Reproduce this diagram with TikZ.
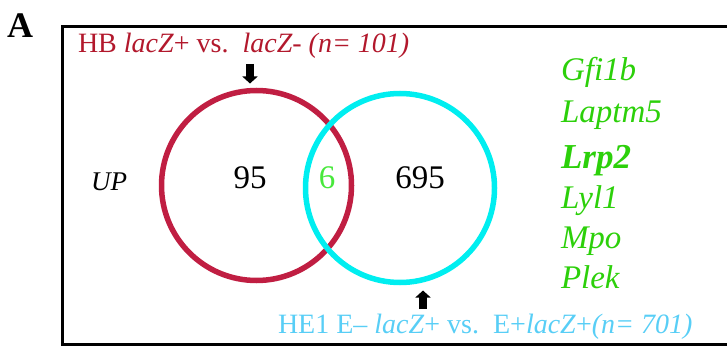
\documentclass[tikz,border=0pt]{standalone}
\usepackage{fontspec}
\setmainfont{Liberation Serif}[ItalicFont={Liberation Serif Italic},
  BoldFont={Liberation Serif Bold}, BoldItalicFont={Liberation Serif Bold Italic}]
\usepackage{tikz}
\usetikzlibrary{arrows.meta,positioning,calc}

\definecolor{hbred}{RGB}{192,30,66}
\definecolor{hbtext}{RGB}{178,24,44}
\definecolor{hecyan}{RGB}{0,238,240}
\definecolor{hetext}{RGB}{88,206,246}
\definecolor{genegreen}{RGB}{44,208,10}
\definecolor{sixgreen}{RGB}{72,232,60}

\newcommand{\fs}[1]{\fontsize{#1}{#1}\selectfont}

\begin{document}
\begin{tikzpicture}[x=1pt, y=-1pt, >={Triangle[width=15pt,length=7pt]}]
\tikzstyle{every node}=[inner sep=0pt, outer sep=0pt]
\tikzstyle{venn}=[circle, draw, line width=5.5pt, fill=none]
\tikzstyle{pointer}=[->, line width=8pt, black]
\tikzstyle{gene}=[anchor=base west, text=genegreen, font=\fs{33}\itshape]
\tikzstyle{count}=[font=\fs{33}]
\useasboundingbox (0,0) rectangle (727,350);

% panel letter and frame
\node[font=\fs{36}\bfseries, anchor=base west] (panel) at (7,38) {A};
\draw[line width=3pt] (62,27) rectangle (745,344);

% the two sets
\node[venn, draw=hbred, minimum size=190pt] (hb) at (256.5,185.5) {};
\node[venn, draw=hecyan, minimum size=189pt] (he) at (400,188) {};

% set titles
\node[anchor=base west, text=hbtext, font=\fs{28}] (hbtitle) at (78,53)
  {HB \textit{lacZ}+ vs.\ \ \textit{lacZ- (n= 101)}};
\node[anchor=base west, text=hetext, font=\fs{28}] (hetitle) at (278,333)
  {HE1 E\textendash{} \textit{lacZ}+ vs.\ \ E+\textit{lacZ}+\textit{(n= 701)}};

\coordinate (hbtip) at (250,64);
\coordinate (hetip) at (423,309);
\draw[pointer] (hbtip) -- ($(hbtip |- hb.north)+(0,-7)$);
\draw[pointer] (hetip) -- ($(hetip |- he.south)+(0,8)$);

% counts
\node[count] (only hb) at (250,178) {95};
\node[count, text=sixgreen] (both) at (327,178) {6};
\node[count] (only he) at (420,178) {695};
\node[font=\fs{27}\itshape, anchor=center] (up) at (109,182) {UP};

% shared genes
\node[gene] (g1) at (561,81) {Gfi1b};
\node[gene] (g2) at (561,122) {Laptm5};
\node[gene, font=\fs{35}\bfseries\itshape] (g3) at (561,168) {Lrp2};
\node[gene] (g4) at (561,208) {Lyl1};
\node[gene] (g5) at (561,248) {Mpo};
\node[gene] (g6) at (561,288) {Plek};
\end{tikzpicture}
\end{document}
